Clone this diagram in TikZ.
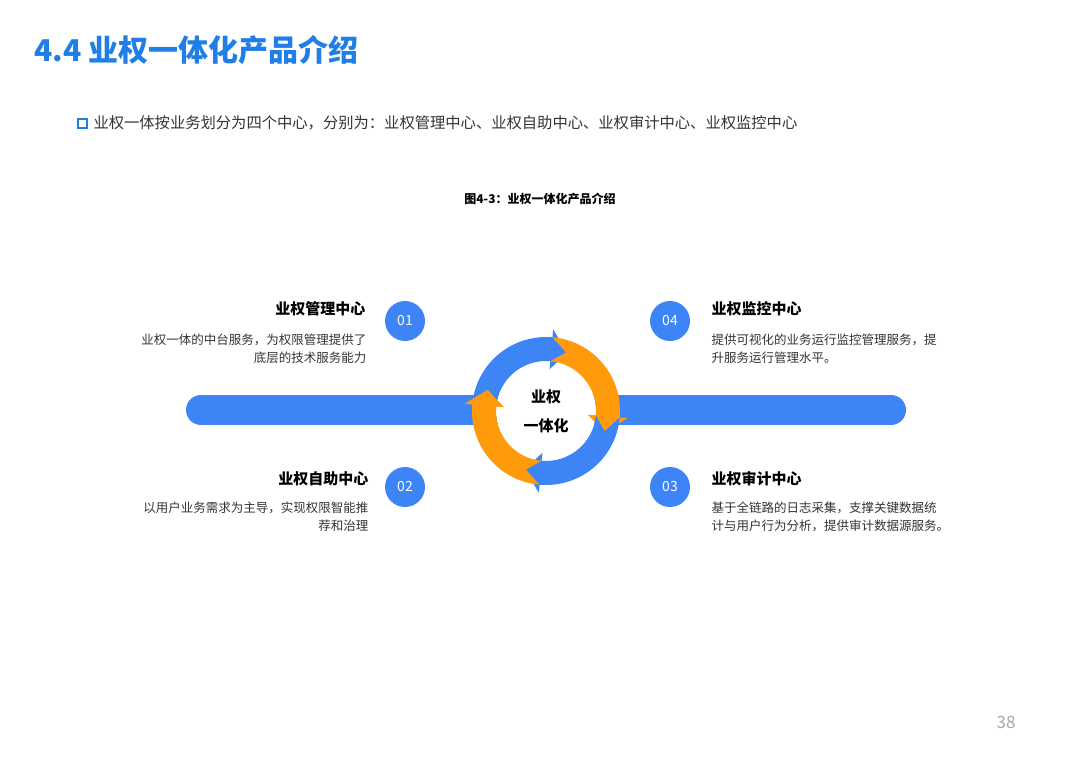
\documentclass[tikz,border=0pt]{standalone}
\usepackage{fontspec}
\setmainfont{Noto Sans CJK SC}
\usetikzlibrary{calc,positioning}
\definecolor{ringblue}{HTML}{3D85F6}
\definecolor{ringorange}{HTML}{FF9A0A}
\definecolor{titleblue}{HTML}{1F7FE6}
\definecolor{bodygray}{HTML}{333333}
\newcommand{\ringseg}[3]{%
  \fill[#3] ($(C)+(#1:74pt)$) arc[start angle=#1,end angle=#2,radius=74pt]
    -- ($(C)+(#2:82pt)$) -- ($(C)+(#2-15:62pt)$) -- ($(C)+(#2:42pt)$)
    -- ($(C)+(#2:50pt)$) arc[start angle=#2,end angle=#1,radius=50pt]
    -- ($(C)+(#1-14:62pt)$) -- cycle;}
\begin{document}
\begin{tikzpicture}
 [x=1pt,y=-1pt,
  numdot/.style={circle,fill=ringblue,minimum size=40pt,inner sep=0,text=white,font=\fontsize{14}{16}\selectfont},
  head/.style={font=\fontsize{15}{18}\selectfont\bfseries,text=black},
  desc/.style={font=\fontsize{12.5}{18.5}\selectfont,text=bodygray,align=#1},
  desc/.default=right]
\useasboundingbox (0,0) rectangle (1080,763);

% Header %
\node[anchor=west,text=titleblue,font=\fontsize{30}{34}\selectfont\bfseries] (title) at (31,50) {4.4 业权一体化产品介绍};
\node[draw=titleblue,line width=2pt,minimum size=9pt,inner sep=0] (box) at (82,123) {};
\node[anchor=west,font=\fontsize{15.3}{18}\selectfont,text=bodygray] (intro) at (90,123) {业权一体按业务划分为四个中心，分别为：业权管理中心、业权自助中心、业权审计中心、业权监控中心};
\node[font=\fontsize{12}{14}\selectfont\bfseries] (caption) at (540,199) {图4-3：业权一体化产品介绍};

% Bar and ring %
\draw[ringblue,line width=30pt,line cap=round] (201,410) -- (891,410);
\coordinate (C) at (546,411);
\fill[white] (C) circle[radius=50pt];
\ringseg{180}{85}{ringblue}
\ringseg{85}{-5}{ringorange}
\ringseg{-5}{-95}{ringblue}
\ringseg{-95}{-185}{ringorange}
\node[align=center,font=\fontsize{15}{29}\selectfont\bfseries] (hub) at (C) {业权\\一体化};

% Centres %
\node[numdot] (n1) at (405,321) {01};
\node[numdot] (n4) at (670,321) {04};
\node[numdot] (n2) at (405,487) {02};
\node[numdot] (n3) at (670,487) {03};

\node[head,anchor=east] (h1) at (369,309) {业权管理中心};
\node[desc,anchor=north east] (d1) at (370,330) {业权一体的中台服务，为权限管理提供了\\底层的技术服务能力};
\node[head,anchor=east] (h2) at (372,479) {业权自助中心};
\node[desc,anchor=north east] (d2) at (372,498) {以用户业务需求为主导，实现权限智能推\\荐和治理};
\node[head,anchor=west] (h4) at (708,309) {业权监控中心};
\node[desc=left,anchor=north west] (d4) at (708,330) {提供可视化的业务运行监控管理服务，提\\升服务运行管理水平。};
\node[head,anchor=west] (h3) at (708,479) {业权审计中心};
\node[desc=left,anchor=north west] (d3) at (708,498) {基于全链路的日志采集，支撑关键数据统\\计与用户行为分析，提供审计数据源服务。};

\node[text=gray!70,font=\fontsize{17}{20}\selectfont] (page) at (1006,722) {38};
\end{tikzpicture}
\end{document}
